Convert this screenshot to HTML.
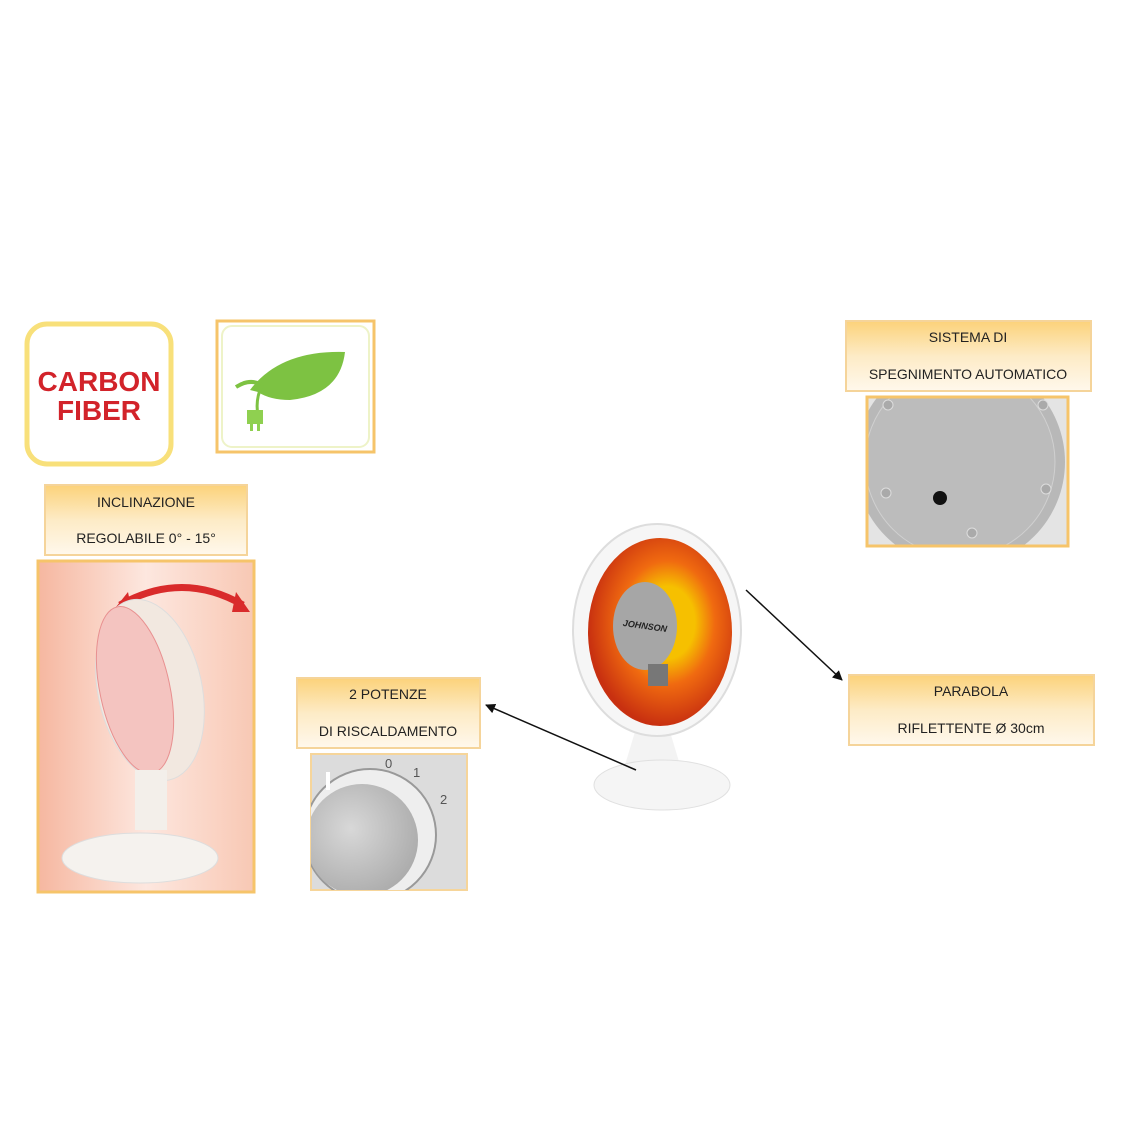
<!DOCTYPE html>
<html><head><meta charset="utf-8"><style>
html,body{margin:0;padding:0;background:#fff;}
svg{display:block;font-family:"Liberation Sans",sans-serif;}
</style></head><body>
<svg width="1131" height="1131" viewBox="0 0 1131 1131">
<defs>
<linearGradient id="lab" x1="0" y1="0" x2="0" y2="1">
<stop offset="0" stop-color="#fcd27a"/><stop offset="0.5" stop-color="#fdebc6"/><stop offset="1" stop-color="#fff8ec"/></linearGradient>
<linearGradient id="pink" x1="0" y1="0" x2="1" y2="0">
<stop offset="0" stop-color="#f6b7a0"/><stop offset="0.5" stop-color="#fde7df"/><stop offset="1" stop-color="#f8c8b4"/></linearGradient>
<radialGradient id="heat" cx="0.55" cy="0.45" r="0.55">
<stop offset="0.35" stop-color="#f6c000"/><stop offset="0.6" stop-color="#f06a10"/><stop offset="1" stop-color="#c83010"/></radialGradient>
<radialGradient id="gray" cx="0.4" cy="0.4" r="0.7">
<stop offset="0" stop-color="#d8d8d8"/><stop offset="1" stop-color="#a8a8a8"/></radialGradient>
<clipPath id="c1"><rect x="867" y="397" width="201" height="149"/></clipPath>
<clipPath id="c2"><rect x="311" y="754" width="156" height="136"/></clipPath>
<clipPath id="c3"><rect x="38" y="561" width="216" height="331"/></clipPath>
<marker id="ah" markerWidth="10" markerHeight="10" refX="9" refY="5" orient="auto" markerUnits="userSpaceOnUse">
<path d="M0,0 L10,5 L0,10 z" fill="#111"/></marker>
</defs>

<rect x="27" y="324" width="144" height="140" rx="20" fill="#fff" stroke="#f8e07a" stroke-width="5"/>
<text x="99" y="391" text-anchor="middle" font-size="28" font-weight="bold" fill="#d2232a">CARBON</text>
<text x="99" y="420" text-anchor="middle" font-size="28" font-weight="bold" fill="#d2232a">FIBER</text>

<rect x="217" y="321" width="157" height="131" fill="#fff" stroke="#f6c46a" stroke-width="3"/>
<rect x="222" y="326" width="147" height="121" rx="10" fill="#fff" stroke="#eef3c8" stroke-width="2"/>
<path d="M250,390 Q280,350 345,352 Q340,395 290,400 Q270,400 258,392" fill="#7dc242"/>
<path d="M236,387 Q250,378 262,385" stroke="#7dc242" stroke-width="4" fill="none"/>
<path d="M262,385 Q255,400 258,415" stroke="#7dc242" stroke-width="3" fill="none"/>
<rect x="247" y="410" width="16" height="14" fill="#8fd050"/>
<rect x="250" y="424" width="3" height="7" fill="#8fd050"/><rect x="257" y="424" width="3" height="7" fill="#8fd050"/>

<rect x="45" y="485" width="202" height="70" fill="url(#lab)" stroke="#f5d49a" stroke-width="2"/>
<text x="146" y="507" text-anchor="middle" font-size="14" fill="#222">INCLINAZIONE</text>
<text x="146" y="543" text-anchor="middle" font-size="14" fill="#222">REGOLABILE 0° - 15°</text>

<rect x="38" y="561" width="216" height="331" fill="url(#pink)" stroke="#f6c46a" stroke-width="3"/>
<g clip-path="url(#c3)">
<path d="M120,605 Q182,570 243,605" stroke="#d92b2b" stroke-width="7" fill="none"/>
<path d="M112,612 L128,592 L132,612z M250,612 L236,592 L232,612z" fill="#d92b2b"/>
<ellipse cx="150" cy="690" rx="52" ry="92" transform="rotate(-12 150 690)" fill="#f2e8e0" stroke="#ddd"/>
<ellipse cx="135" cy="690" rx="35" ry="85" transform="rotate(-12 135 690)" fill="#f4c4c0" stroke="#e89090"/>
<rect x="135" y="770" width="32" height="60" fill="#f3efea"/>
<ellipse cx="140" cy="858" rx="78" ry="25" fill="#f5f2ee" stroke="#ddd"/>
</g>

<rect x="297" y="678" width="183" height="70" fill="url(#lab)" stroke="#f5d49a" stroke-width="2"/>
<text x="388" y="699" text-anchor="middle" font-size="14" fill="#222">2 POTENZE</text>
<text x="388" y="736" text-anchor="middle" font-size="14" fill="#222">DI RISCALDAMENTO</text>
<rect x="311" y="754" width="156" height="136" fill="#dcdcdc" stroke="#f6d59a" stroke-width="2"/>
<g clip-path="url(#c2)">
<circle cx="370" cy="835" r="66" fill="#eee" stroke="#999" stroke-width="2"/>
<circle cx="362" cy="840" r="56" fill="url(#gray)"/>
<rect x="326" y="772" width="4" height="18" fill="#fff"/>
</g>
<text x="385" y="768" font-size="13" fill="#555">0</text>
<text x="413" y="777" font-size="13" fill="#555">1</text>
<text x="440" y="804" font-size="13" fill="#555">2</text>

<rect x="846" y="321" width="245" height="70" fill="url(#lab)" stroke="#f5d49a" stroke-width="2"/>
<text x="968" y="342" text-anchor="middle" font-size="14" fill="#222">SISTEMA DI</text>
<text x="968" y="379" text-anchor="middle" font-size="14" fill="#222">SPEGNIMENTO AUTOMATICO</text>
<rect x="867" y="397" width="201" height="149" fill="#e4e4e4"/>
<g clip-path="url(#c1)">
<circle cx="960" cy="462" r="105" fill="#b8b8b8"/>
<circle cx="960" cy="462" r="95" fill="#bcbcbc" stroke="#d0d0d0"/>
<circle cx="940" cy="498" r="7" fill="#111"/>
<circle cx="886" cy="493" r="5" fill="#aaa" stroke="#ddd"/><circle cx="1046" cy="489" r="5" fill="#aaa" stroke="#ddd"/>
<circle cx="972" cy="533" r="5" fill="#aaa" stroke="#ddd"/><circle cx="1043" cy="405" r="5" fill="#aaa" stroke="#ddd"/>
<circle cx="888" cy="405" r="5" fill="#aaa" stroke="#ddd"/>
</g>
<rect x="867" y="397" width="201" height="149" fill="none" stroke="#f6c46a" stroke-width="3"/>

<rect x="849" y="675" width="245" height="70" fill="url(#lab)" stroke="#f5d49a" stroke-width="2"/>
<text x="971" y="696" text-anchor="middle" font-size="14" fill="#222">PARABOLA</text>
<text x="971" y="733" text-anchor="middle" font-size="14" fill="#222">RIFLETTENTE Ø 30cm</text>

<path d="M640,715 Q655,700 665,715 L680,765 L625,765z" fill="#f3f3f3"/>
<ellipse cx="662" cy="785" rx="68" ry="25" fill="#f5f5f5" stroke="#e0e0e0"/>
<ellipse cx="657" cy="630" rx="84" ry="106" fill="#f6f6f6" stroke="#ddd" stroke-width="2"/>
<ellipse cx="660" cy="632" rx="72" ry="94" fill="url(#heat)"/>
<ellipse cx="645" cy="626" rx="32" ry="44" fill="#a6a6a6"/>
<text x="645" y="629" text-anchor="middle" font-size="9" font-style="italic" font-weight="bold" fill="#222" transform="rotate(8 645 626)">JOHNSON</text>
<rect x="648" y="664" width="20" height="22" fill="#777"/>

<line x1="636" y1="770" x2="486" y2="705" stroke="#111" stroke-width="1.5" marker-end="url(#ah)"/>
<line x1="746" y1="590" x2="842" y2="680" stroke="#111" stroke-width="1.5" marker-end="url(#ah)"/>
</svg>
</body></html>
